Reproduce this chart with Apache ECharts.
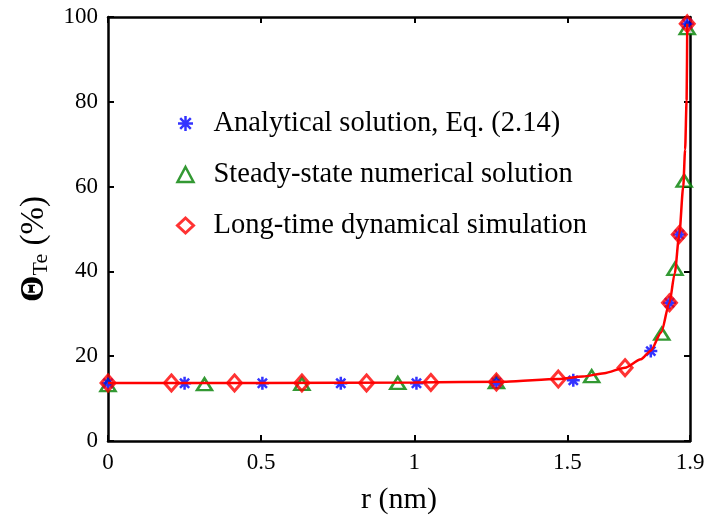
<!DOCTYPE html>
<html>
<head>
<meta charset="utf-8">
<script src="https://cdn.jsdelivr.net/npm/echarts@6/dist/echarts.min.js"></script>
<style>
  html, body { margin: 0; padding: 0; background: #fff; }
  #chart { width: 708px; height: 520px; }
</style>
</head>
<body>
<div id="chart"></div>
<script>
// Tellurium coverage Θ_Te (%) against radial position r (nm)
const xTicks = [0, 0.5, 1, 1.5, 1.9];

// Analytical solution, Eq. (2.14)
const analyticalR = [0, 0.25, 0.504, 0.76, 1.007, 1.268, 1.519, 1.772, 1.833, 1.865, 1.891];
const analyticalTheta = [13.6, 13.6, 13.6, 13.6, 13.6, 13.8, 14.3, 21.2, 32.6, 48.7, 98.4];

// Steady-state numerical solution
const steadyR = [0, 0.315, 0.633, 0.946, 1.268, 1.579, 1.808, 1.851, 1.881, 1.891];
const steadyTheta = [13.2, 13.4, 13.5, 13.7, 13.9, 15.3, 25.3, 40.6, 61.4, 97.4];

// Long-time dynamical simulation (markers)
const dynamicR = [0, 0.207, 0.413, 0.633, 0.844, 1.054, 1.268, 1.47, 1.688, 1.833, 1.865, 1.891];
const dynamicTheta = [13.7, 13.7, 13.7, 13.7, 13.7, 13.8, 13.9, 14.6, 17.3, 32.6, 48.7, 98.4];

// Long-time dynamical simulation (continuous profile)
const profileR = [0, 0.5, 1.0, 1.3, 1.47, 1.55, 1.62, 1.688, 1.74, 1.772, 1.806, 1.833, 1.85, 1.865, 1.878, 1.884, 1.889, 1.891];
const profileTheta = [13.7, 13.7, 13.8, 14.0, 14.6, 15.2, 16.0, 17.3, 19.3, 21.3, 25.6, 32.6, 39.5, 48.7, 60.0, 68.7, 80.5, 98.4];

const seriesNames = [
  'Analytical solution, Eq. (2.14)',
  'Steady-state numerical solution',
  'Long-time dynamical simulation'
];

const pairs = (xs, ys) => xs.map((x, i) => [x, ys[i]]);

const serif = '"Liberation Serif", "DejaVu Serif", serif';
const asterisk = 'path://M0,-1L0,1M-1,0L1,0M-0.707,-0.707L0.707,0.707M-0.707,0.707L0.707,-0.707';

const chart = echarts.init(document.getElementById('chart'), null, { renderer: 'canvas' });

const axisLine = { show: true, onZero: false, lineStyle: { color: '#000', width: 2.5 } };
const tick = { show: true, inside: true, length: 6, lineStyle: { color: '#000', width: 2 } };

chart.setOption({
  animation: false,
  backgroundColor: '#fff',
  grid: { left: 108, right: 18, top: 17, bottom: 78, containLabel: false },
  legend: {
    orient: 'vertical',
    left: 171,
    top: 104,
    itemGap: 22,
    itemWidth: 16,
    itemHeight: 15,
    selectedMode: false,
    textStyle: { fontFamily: serif, fontSize: 28.5, color: '#000', padding: [0, 0, 0, 15] },
    data: [
      { name: seriesNames[0], icon: asterisk,
        itemStyle: { color: 'rgba(0,0,0,0)', borderColor: '#0000ff', borderWidth: 2.5 } },
      { name: seriesNames[1], icon: 'triangle',
        itemStyle: { color: '#fff', borderColor: '#008000', borderWidth: 2.5 } },
      { name: seriesNames[2], icon: 'diamond',
        itemStyle: { color: '#fff', borderColor: '#ff0000', borderWidth: 3 } }
    ]
  },
  xAxis: [
    {
      type: 'value', min: 0, max: 1.9, interval: 0.5, position: 'bottom',
      name: 'r (nm)', nameLocation: 'middle', nameGap: 44,
      nameTextStyle: { fontFamily: serif, fontSize: 30, color: '#000' },
      axisLine: axisLine,
      axisTick: tick,
      axisLabel: {
        fontFamily: serif, fontSize: 23, color: '#000', margin: 10,
        showMaxLabel: true,
        formatter: v => {
          const t = xTicks.find(k => Math.abs(k - v) < 1e-6);
          return t === undefined ? '' : String(t);
        }
      },
      splitLine: { show: false }
    },
    {
      type: 'value', min: 0, max: 1.9, interval: 0.5, position: 'top',
      axisLine: axisLine,
      axisTick: tick,
      axisLabel: { show: false },
      splitLine: { show: false }
    }
  ],
  yAxis: [
    {
      type: 'value', min: 0, max: 100, interval: 20, position: 'left',
      name: '{t|Θ}{s|Te}{p| (%)}',
      nameLocation: 'middle', nameRotate: 90, nameGap: 54,
      nameTextStyle: {
        fontFamily: serif, color: '#000',
        rich: {
          t: { fontFamily: serif, fontSize: 34, fontWeight: 'bold', color: '#000' },
          s: { fontFamily: serif, fontSize: 22, color: '#000', verticalAlign: 'bottom', padding: [14, 0, 0, 0] },
          p: { fontFamily: serif, fontSize: 33, color: '#000', padding: [0, 40, 0, 0] }
        }
      },
      axisLine: axisLine,
      axisTick: tick,
      axisLabel: { fontFamily: serif, fontSize: 23, color: '#000', margin: 10 },
      splitLine: { show: false }
    },
    {
      type: 'value', min: 0, max: 100, interval: 20, position: 'right',
      axisLine: axisLine,
      axisTick: tick,
      axisLabel: { show: false },
      splitLine: { show: false }
    }
  ],
  series: [
    {
      name: seriesNames[1],
      type: 'scatter',
      data: pairs(steadyR, steadyTheta),
      symbol: 'triangle', symbolSize: [15, 12],
      itemStyle: { color: '#fff', borderColor: '#008000', borderWidth: 2.5 },
      emphasis: { disabled: true },
      z: 2
    },
    {
      name: seriesNames[0],
      type: 'scatter',
      data: pairs(analyticalR, analyticalTheta),
      symbol: asterisk, symbolSize: 13,
      itemStyle: { color: 'rgba(0,0,0,0)', borderColor: '#0000ff', borderWidth: 2.5 },
      emphasis: { disabled: true },
      z: 3
    },
    {
      name: 'profile',
      type: 'line',
      data: pairs(profileR, profileTheta),
      smooth: 0.25, smoothMonotone: 'x',
      showSymbol: false, symbol: 'none',
      lineStyle: { color: '#ff0000', width: 2.5 },
      emphasis: { disabled: true },
      z: 4
    },
    {
      name: seriesNames[2],
      type: 'scatter',
      data: pairs(dynamicR, dynamicTheta),
      symbol: 'diamond', symbolSize: [14, 16],
      itemStyle: { color: 'rgba(255,255,255,0)', borderColor: '#ff0000', borderWidth: 3 },
      emphasis: { disabled: true },
      z: 5
    }
  ]
});
</script>
</body>
</html>
